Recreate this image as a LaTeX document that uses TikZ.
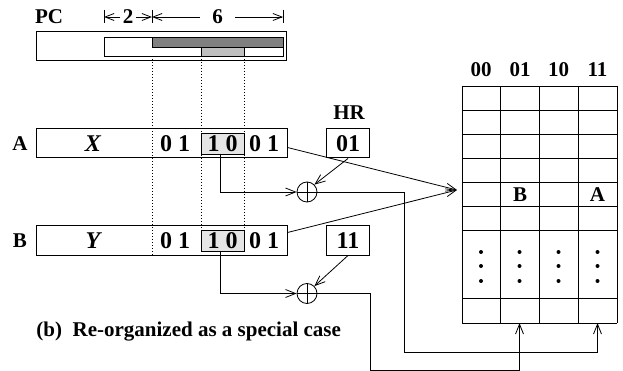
\documentclass[tikz,border=0pt]{standalone}
\usepackage{fontspec}
\setmainfont{Liberation Serif}
\usetikzlibrary{arrows.meta}
\begin{document}
\begin{tikzpicture}[x=1pt,y=-1pt,line width=0.9pt,
  lbl/.style={font=\fontsize{21}{21}\selectfont\bfseries, inner sep=0pt},
  dig/.style={font=\fontsize{24}{24}\selectfont\bfseries, inner sep=0pt},
  regbox/.style={draw, line width=1pt, inner sep=0pt},
  shade/.style={draw, fill=black!10, inner sep=0pt, minimum width=43pt, minimum height=21pt},
  arr/.style={-{Straight Barb[length=10pt,width=8pt,line width=0.8pt]}},
  dimarr/.style={{Straight Barb[length=9pt,width=7pt,line width=0.8pt]}-{Straight Barb[length=9pt,width=7pt,line width=0.8pt]}},
  vdots/.style={dash pattern=on 1pt off 2pt, line width=0.8pt},
  xor/.style={draw, circle, minimum size=20pt, inner sep=0pt, line width=0.8pt}]
\useasboundingbox (0,0) rectangle (623,371);

% ---------- PC ----------
\node[lbl] (pc) at (49,17) {PC};
\coordinate (t1) at (104,17);
\coordinate (t2) at (152,17);
\coordinate (t3) at (283,17);
\draw[line width=0.8pt] (104,10) -- (104,23) (152,10) -- (152,23) (283,10) -- (283,23);
\draw[dimarr] (t1) -- (t2) node[midway, fill=white, lbl, inner xsep=3pt] (two) {2};
\draw[dimarr] (t2) -- (t3) node[midway, fill=white, lbl, inner xsep=12pt] (six) {6};

% dotted guides (behind everything)
\draw[vdots] (152,56) -- (152,256);
\draw[vdots] (201,56) -- (201,231);
\draw[vdots] (244,56) -- (244,231);

\node[regbox, minimum width=250pt, minimum height=29pt] (pcreg) at (161,46.5) {};
\node[draw, fill=white, inner sep=0pt, minimum width=179pt, minimum height=19pt] (pcin) at (193.5,46.5) {};
\fill[black!50] (152,37) rectangle (283,47);
\draw (152,37) rectangle (283,47);
\fill[black!25] (201,47) rectangle (244,56);
\draw (201,47) rectangle (244,56);
\draw (104,37) rectangle (283,56);

% ---------- registers ----------
\node[lbl] (labA) at (20,143.5) {A};
\node[regbox, minimum width=251pt, minimum height=29pt] (regA) at (161.5,143.5) {};
\node[dig] (xA) at (93,144) {\itshape X};
\node[dig] (dA1) at (175,144) {0 1};
\node[shade] (sA) at (222.5,143.5) {};
\node[dig] (dA2) at (222.5,144) {1 0};
\node[dig] (dA3) at (264,144) {0 1};

\node[lbl] (labB) at (20,240.5) {B};
\node[regbox, minimum width=251pt, minimum height=29pt] (regB) at (161.5,240.5) {};
\node[dig] (xB) at (93,241) {\itshape Y};
\node[dig] (dB1) at (175,241) {0 1};
\node[shade] (sB) at (222.5,240.5) {};
\node[dig] (dB2) at (222.5,241) {1 0};
\node[dig] (dB3) at (264,241) {0 1};

% ---------- HR ----------
\node[lbl] (hr) at (349,113) {HR};
\node[regbox, minimum width=43pt, minimum height=29pt, dig] (hrA) at (348,143.5) {01};
\node[regbox, minimum width=43pt, minimum height=29pt, dig] (hrB) at (348,240.5) {11};

% ---------- XOR ----------
\node[xor] (xorA) at (307,192) {};
\draw[line width=0.8pt] (xorA.north) -- (xorA.south) (xorA.west) -- (xorA.east);
\node[xor] (xorB) at (307,293.5) {};
\draw[line width=0.8pt] (xorB.north) -- (xorB.south) (xorB.west) -- (xorB.east);

% ---------- table ----------
\foreach \y in {86,110,134,158,182,206,230,298,323}
  \draw (462,\y) -- (617,\y);
\foreach \x in {462,500,539,578,617}
  \draw (\x,86) -- (\x,323);
\node[lbl] (h00) at (481,70) {00};
\node[lbl] (h01) at (520,70) {01};
\node[lbl] (h10) at (558.5,70) {10};
\node[lbl] (h11) at (597.5,70) {11};
\node[lbl] (cB) at (520,195) {B};
\node[lbl] (cA) at (597.5,195) {A};
\foreach \x in {481,519.5,558.5,597.5}
  \foreach \y in {252,266,281}
    \fill (\x,\y) circle (2pt);
\coordinate (tin) at (457,190);
\coordinate (t01) at (519.5,323);
\coordinate (t11) at (597.5,323);

% ---------- connectors ----------
\draw[arr, line width=0.8pt] (regA.east) ++(0,4) -- (tin);
\draw[arr, line width=0.8pt] (regB.east) ++(0,-8) -- (tin);
\draw[arr, line width=0.8pt] ([xshift=-2.5pt]sA.south) |- (xorA.west);
\draw[arr, line width=0.8pt] ([xshift=-2.5pt]sB.south) |- (xorB.west);
\draw[arr, line width=0.8pt] (hrA.south) -- (xorA.north east);
\draw[arr, line width=0.8pt] (hrB.south) -- (xorB.north east);
\draw[arr, line width=0.8pt] (xorA.east) -- (404,192) -- (404,352) -| (t11);
\draw[arr, line width=0.8pt] (xorB.east) -- (370,293.5) -- (370,370) -| (t01);

% ---------- caption ----------
\node[lbl, anchor=west] (cap) at (36,332) {(b)\ \ Re-organized as a special case};
\end{tikzpicture}
\end{document}
